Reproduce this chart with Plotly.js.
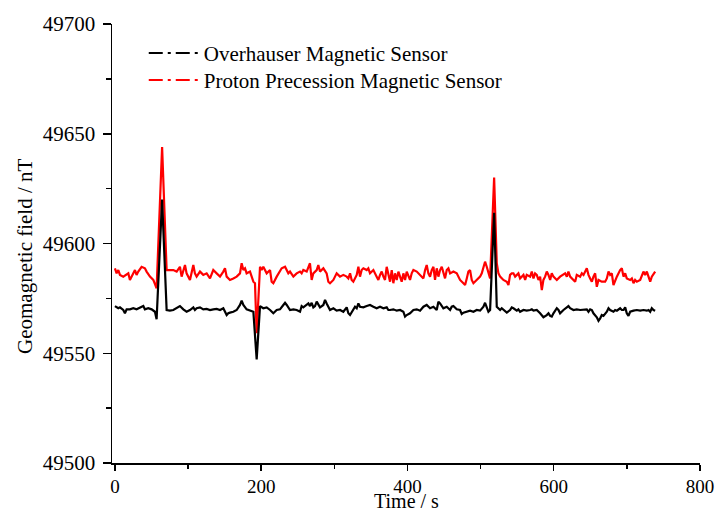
<!DOCTYPE html>
<html>
<head>
<meta charset="utf-8">
<script src="https://cdn.plot.ly/plotly-3.0.1.min.js"></script>
<style>html,body{margin:0;padding:0;background:#fff;}#chart{width:716px;height:514px;}</style>
</head>
<body>
<div id="chart"></div>
<script>
// Proton precession sensor (red)
const tRed = [0.0,2.3,4.6,6.9,11.4,16.0,18.3,20.5,22.8,25.1,27.4,29.6,31.9,36.5,41.0,43.3,47.9,52.5,57.0,64.5,70.7,75.2,79.8,84.4,88.9,91.2,93.5,95.8,98.0,102.6,107.2,109.4,111.7,116.3,120.8,125.4,130.0,134.5,139.1,143.7,148.2,150.5,152.8,157.3,161.9,166.5,171.0,173.3,175.6,177.9,180.1,184.7,189.3,191.5,193.8,198.4,200.6,202.9,207.5,212.1,214.3,216.6,221.2,225.7,228.0,232.6,237.1,239.4,244.0,248.5,253.1,
255.3,257.6,262.2,264.5,266.7,269.0,271.3,275.9,278.1,280.4,285.0,289.5,291.8,294.1,298.7,300.9,303.2,307.8,312.3,316.9,319.2,321.5,323.7,326.0,330.6,332.9,335.1,337.4,339.7,344.3,346.5,348.8,353.4,357.9,360.2,362.5,364.8,367.1,369.3,371.6,373.9,376.2,378.5,380.7,383.0,385.3,387.6,389.9,392.1,394.4,396.7,399.0,401.3,403.5,405.8,408.1,412.7,417.2,421.8,424.1,426.3,428.6,430.9,433.2,435.5,437.7,440.0,442.3,444.6,446.9,449.1,451.4,453.7,456.0,458.3,462.8,467.4,471.9,476.5,478.8,481.1,483.3,485.6,487.9,490.2,494.7,499.3,
501.6,503.9,506.1,508.4,510.7,513.0,518.5,522.1,524.4,526.7,531.2,535.8,538.1,540.3,542.6,544.9,547.2,549.5,551.7,554.0,558.6,560.9,563.1,567.7,570.0,572.3,574.5,576.8,579.1,581.4,583.7,585.9,588.2,590.5,592.8,595.1,597.3,599.6,601.9,604.2,608.7,613.3,615.6,617.9,620.1,622.4,627.0,629.3,631.5,636.1,638.4,640.7,645.2,647.5,649.8,652.1,654.3,656.6,658.9,661.2,665.7,670.3,672.6,674.9,677.1,679.4,681.7,684.0,686.3,690.8,693.1,695.4,697.7,699.9,704.5,706.8,709.1,711.3,713.6,718.2,722.7,725.0,727.3,729.6,731.9,734.1,736.4,738.7];
const red = [49588.7,49586.4,49587.9,49585.7,49584.9,49585.7,49586.4,49583.4,49584.9,49586.4,49587.9,49585.7,49587.2,49589.4,49588.7,49587.2,49584.9,49583.4,49579.6,49644.0,49587.9,49587.9,49587.9,49587.2,49589.4,49584.9,49587.9,49590.2,49586.4,49583.4,49590.2,49586.4,49584.9,49587.2,49585.7,49586.4,49584.1,49587.9,49586.4,49584.9,49587.2,49588.7,49584.9,49583.4,49584.1,49584.9,49586.4,49591.0,49587.9,49588.7,49586.4,49587.2,49582.6,49581.9,49559.1,49589.4,49587.9,49589.4,49586.4,49587.9,49582.6,49581.9,49584.9,49587.2,49588.7,49589.4,49586.4,49587.2,49584.9,49586.4,49587.2,
49586.4,49587.9,49587.2,49589.4,49591.0,49583.4,49586.4,49587.9,49590.2,49587.2,49588.7,49586.4,49582.6,49581.9,49583.4,49584.9,49586.4,49584.9,49585.7,49584.9,49584.1,49586.4,49583.4,49582.6,49585.7,49589.4,49584.9,49587.9,49588.7,49587.9,49588.7,49586.4,49587.9,49584.9,49583.4,49585.7,49587.2,49584.9,49583.4,49589.4,49586.4,49582.6,49587.9,49581.9,49586.4,49583.4,49587.2,49584.9,49582.6,49586.4,49583.4,49587.2,49584.9,49583.4,49586.4,49587.9,49587.2,49585.7,49584.1,49587.9,49590.2,49586.4,49584.9,49587.9,49589.4,49583.4,49588.7,49584.9,49587.9,49589.4,49586.4,49584.1,49587.9,49588.7,49586.4,49587.2,49586.4,49583.4,49581.9,49581.1,49584.1,49587.2,49587.9,49583.4,49581.9,49583.4,49584.9,
49586.4,49589.4,49591.7,49589.4,49586.4,49584.1,49630.0,49591.0,49586.4,49584.9,49583.4,49582.6,49581.1,49585.7,49586.4,49586.4,49584.9,49585.7,49586.4,49584.1,49585.7,49583.4,49585.7,49584.9,49587.2,49584.1,49586.4,49585.7,49583.4,49584.9,49578.8,49583.4,49584.9,49587.2,49585.7,49583.4,49586.4,49584.9,49584.1,49583.4,49584.9,49585.7,49586.4,49584.9,49587.2,49584.9,49583.4,49582.6,49585.7,49584.9,49586.4,49585.7,49588.7,49585.7,49584.1,49582.6,49584.9,49586.4,49580.3,49583.4,49582.6,49582.6,49584.1,49587.2,49585.7,49586.4,49581.1,49583.4,49584.9,49587.9,49588.7,49584.9,49586.4,49584.1,49583.4,49584.1,49581.9,49583.4,49582.6,49583.4,49587.2,49585.7,49587.2,49584.9,49582.6,49584.9,49586.4,49587.2];

// Overhauser sensor (black)
const tBlack = [0.0,4.6,6.9,11.4,13.7,16.0,20.5,25.1,29.6,34.2,38.8,41.0,45.6,50.2,54.7,57.0,64.5,70.7,75.2,79.8,86.6,88.9,93.5,98.0,102.6,107.2,109.4,111.7,116.3,120.8,125.4,130.0,134.5,139.1,143.7,148.2,152.8,155.0,157.3,161.9,166.5,171.0,173.3,175.6,180.1,184.7,189.3,193.8,198.4,202.9,207.5,212.1,216.6,221.2,225.7,230.3,232.6,234.9,237.1,239.4,244.0,248.5,253.1,
255.3,257.6,262.2,264.5,266.7,269.0,271.3,273.6,275.9,278.1,280.4,285.0,287.3,289.5,291.8,294.1,298.7,303.2,307.8,312.3,316.9,319.2,321.5,326.0,328.3,330.6,332.9,335.1,339.7,344.3,348.8,353.4,357.9,362.5,367.1,371.6,373.9,376.2,380.7,385.3,389.9,394.4,396.7,399.0,403.5,408.1,412.7,417.2,421.8,426.3,430.9,435.5,440.0,442.3,444.6,449.1,453.7,458.3,460.5,462.8,467.4,471.9,474.2,476.5,481.1,485.6,490.2,494.7,499.3,
503.9,506.1,508.4,510.7,513.0,518.5,522.1,524.4,526.7,528.9,531.2,535.8,540.3,542.6,544.9,549.5,551.7,554.0,558.6,563.1,567.7,570.0,572.3,576.8,581.4,583.7,585.9,590.5,592.8,595.1,597.3,599.6,601.9,604.2,606.5,608.7,613.3,615.6,617.9,620.1,622.4,627.0,631.5,636.1,640.7,645.2,647.5,649.8,652.1,654.3,658.9,661.2,663.5,665.7,668.0,672.6,674.9,677.1,681.7,684.0,686.3,690.8,693.1,695.4,697.7,699.9,702.2,704.5,709.1,713.6,718.2,722.7,727.3,729.6,731.9,734.1,736.4,738.7];
const black = [49571.5,49570.5,49570.9,49569.7,49568.2,49570.0,49570.0,49570.5,49570.0,49570.9,49571.5,49570.0,49570.5,49570.0,49568.9,49565.5,49620.0,49569.7,49569.4,49569.7,49571.2,49571.5,49570.0,49568.9,49569.7,49570.9,49569.7,49570.5,49570.9,49570.0,49570.2,49569.7,49570.0,49570.2,49569.7,49570.5,49567.4,49568.2,49568.5,49568.9,49569.7,49572.0,49574.0,49572.0,49570.0,49569.4,49568.9,49547.2,49571.5,49570.5,49570.9,49569.7,49568.2,49569.7,49570.0,49572.0,49573.0,49572.0,49570.5,49569.7,49570.0,49569.7,49568.9,
49571.5,49570.9,49572.0,49572.7,49571.5,49573.0,49570.9,49571.5,49573.5,49572.0,49570.9,49572.0,49574.3,49572.7,49570.9,49569.7,49570.5,49569.4,49569.7,49568.9,49570.9,49568.2,49567.4,49569.7,49571.2,49570.5,49572.7,49571.2,49570.9,49571.5,49572.0,49571.2,49570.5,49571.2,49570.5,49570.9,49569.7,49569.7,49570.0,49569.4,49569.7,49568.9,49566.7,49567.4,49568.2,49569.7,49570.0,49569.4,49571.2,49572.0,49570.5,49571.2,49569.7,49573.5,49572.7,49570.5,49571.2,49569.7,49571.2,49571.5,49570.0,49569.7,49567.9,49568.5,49568.9,49569.4,49568.9,49569.7,49569.4,
49571.2,49573.0,49571.2,49568.9,49569.7,49614.0,49571.2,49570.5,49569.7,49570.5,49569.7,49568.5,49569.7,49570.9,49570.5,49569.4,49570.0,49568.9,49569.7,49569.4,49569.7,49570.0,49569.4,49569.7,49568.2,49567.0,49566.4,49567.4,49568.2,49567.0,49566.7,49568.2,49569.4,49570.5,49569.7,49568.2,49569.7,49570.5,49570.9,49571.5,49570.5,49569.7,49570.0,49569.7,49569.7,49570.0,49568.9,49570.0,49569.7,49568.2,49566.4,49564.8,49565.9,49567.4,49567.0,49568.9,49570.5,49569.7,49568.9,49569.7,49569.4,49570.5,49569.7,49569.7,49570.9,49568.2,49567.0,49568.9,49569.4,49569.7,49569.4,49569.7,49569.4,49569.7,49568.9,49570.5,49569.7,49569.4];

const seriesNames = ['Overhauser Magnetic Sensor', 'Proton Precession Magnetic Sensor'];
const xTitle = 'Time / s';
const yTitle = 'Geomagnetic field / nT';

const FONT = 'Liberation Serif, Times New Roman, serif';
const FS = 21;
const legendDash = '14px,5px,3px,5px';

const traces = [
  {x: tRed, y: red, type: 'scatter', mode: 'lines', line: {color: '#ff0000', width: 2.2}, showlegend: false, hoverinfo: 'skip'},
  {x: tBlack, y: black, type: 'scatter', mode: 'lines', line: {color: '#000000', width: 2.2}, showlegend: false, hoverinfo: 'skip'},
  {x: [null], y: [null], type: 'scatter', mode: 'lines', name: seriesNames[0], legend: 'legend', line: {color: '#000000', width: 2, dash: legendDash}},
  {x: [null], y: [null], type: 'scatter', mode: 'lines', name: seriesNames[1], legend: 'legend2', line: {color: '#ff0000', width: 2, dash: legendDash}}
];

const axisCommon = {
  showgrid: false, zeroline: false, showline: true, linecolor: '#000', linewidth: 1.5,
  ticks: 'outside', ticklen: 8, tickwidth: 1.5, tickcolor: '#000',
  tickfont: {family: FONT, size: FS, color: '#000'}
};

const legendCommon = {
  x: 0.054, xanchor: 'left', yanchor: 'top',
  bgcolor: 'rgba(0,0,0,0)', borderwidth: 0, itemwidth: 50,
  font: {family: FONT, size: FS, color: '#000'}
};

const layout = {
  width: 716, height: 514,
  margin: {l: 112, r: 16, t: 24, b: 51, pad: 0},
  paper_bgcolor: '#fff', plot_bgcolor: '#fff',
  font: {family: FONT, size: FS, color: '#000'},
  xaxis: Object.assign({}, axisCommon, {
    range: [-4, 800], tick0: 0, dtick: 200,
    ticklen: 6,
    tickfont: {family: FONT, size: 19, color: '#000'},
    minor: {dtick: 100, ticks: 'outside', ticklen: 4, tickwidth: 1.5, tickcolor: '#000'},
    automargin: false
  }),
  yaxis: Object.assign({}, axisCommon, {
    range: [49500, 49700], tick0: 49500, dtick: 50,
    minor: {dtick: 25, ticks: 'outside', ticklen: 5, tickwidth: 1.5, tickcolor: '#000'},
    ticklabelstandoff: 3,
    automargin: false, tickformat: 'd'
  }),
  legend: Object.assign({}, legendCommon, {y: 0.98}),
  legend2: Object.assign({}, legendCommon, {y: 0.9185}),
  annotations: [
    {
      text: yTitle, textangle: -90, showarrow: false,
      xref: 'paper', yref: 'paper', x: -0.148, y: 0.4715,
      xanchor: 'center', yanchor: 'middle',
      font: {family: FONT, size: FS, color: '#000'}
    },
    {
      text: xTitle, showarrow: false,
      xref: 'paper', yref: 'paper', x: 0.5, y: 0,
      xanchor: 'center', yanchor: 'bottom', yshift: -51,
      font: {family: FONT, size: 20, color: '#000'}
    }
  ],
  showlegend: true
};

Plotly.newPlot('chart', traces, layout, {staticPlot: true, displayModeBar: false});
</script>
</body>
</html>
